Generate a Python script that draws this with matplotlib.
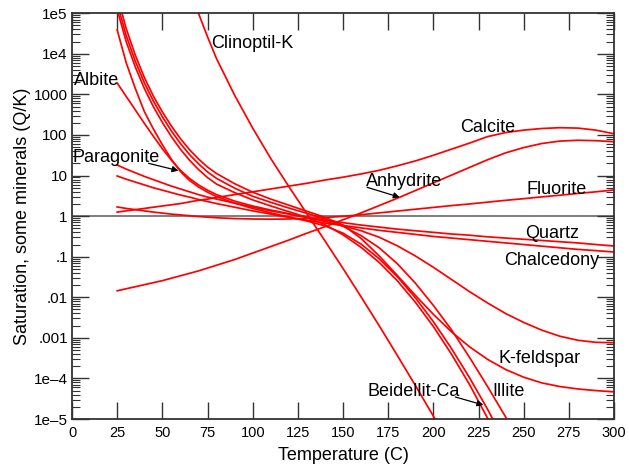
import numpy as np
import matplotlib
matplotlib.use("Agg")
import matplotlib.pyplot as plt
from matplotlib.ticker import LogLocator, NullFormatter, NullLocator

plt.rcParams['font.family'] = ['Liberation Sans', 'DejaVu Sans']

nan = np.nan

# Temperature grid (C): finer steps at low temperature where curves are steep
temperature = [25, 30, 35, 40, 45, 50, 55, 60, 65, 70, 75, 80,
               90, 100, 110, 120, 130, 140, 150, 160, 170, 180, 190, 200,
               210, 220, 230, 240, 250, 260, 270, 280, 290, 300]

# Saturation indices, log10(Q/K), for each mineral
si_clinoptil_k = [nan, nan, nan, nan, nan, nan, nan, 6.3, 5.65, 5.0, 4.42, 3.88,
                  2.98, 2.17, 1.42, 0.73, 0.06, -0.61, -1.29, -1.99, -2.70, -3.43, -4.17, -4.93,
                  -5.7, nan, nan, nan, nan, nan, nan, nan, nan, nan]
si_albite = [3.28, 2.95, 2.62, 2.29, 1.97, 1.66, 1.38, 1.13, 0.93, 0.77, 0.64, 0.53,
             0.37, 0.25, 0.15, 0.06, -0.03, -0.13, -0.24, -0.36, -0.52, -0.73, -0.98, -1.26,
             -1.56, -1.86, -2.14, -2.40, -2.62, -2.81, -2.96, -3.06, -3.11, -3.12]
si_paragonite = [4.59, 3.78, 3.15, 2.58, 2.15, 1.76, 1.40, 1.10, 0.88, 0.72, 0.59, 0.48,
                 0.32, 0.19, 0.08, -0.02, -0.12, -0.24, -0.42, -0.69, -1.05, -1.49, -2.01, -2.60,
                 -3.26, -3.98, -4.76, -5.6, nan, nan, nan, nan, nan, nan]
si_beidellit_ca = [5.09, 4.30, 3.68, 3.15, 2.70, 2.31, 1.96, 1.65, 1.38, 1.15, 0.95, 0.79,
                   0.58, 0.40, 0.25, 0.11, -0.03, -0.21, -0.46, -0.77, -1.14, -1.59, -2.12, -2.72,
                   -3.40, -4.15, -4.98, -5.9, nan, nan, nan, nan, nan, nan]
si_illite = [5.24, 4.45, 3.82, 3.29, 2.84, 2.45, 2.10, 1.79, 1.52, 1.29, 1.09, 0.93,
             0.69, 0.49, 0.34, 0.20, 0.07, -0.07, -0.25, -0.48, -0.78, -1.17, -1.65, -2.20,
             -2.80, -3.48, -4.20, -4.95, -5.8, nan, nan, nan, nan, nan]
si_k_feldspar = [5.44, 4.62, 3.97, 3.42, 2.96, 2.57, 2.22, 1.91, 1.64, 1.41, 1.21, 1.05,
                 0.80, 0.59, 0.42, 0.27, 0.12, -0.03, -0.22, -0.55, -0.98, -1.46, -1.95, -2.42,
                 -2.85, -3.22, -3.53, -3.78, -3.97, -4.11, -4.20, -4.26, -4.30, -4.33]
si_quartz = [1.26, 1.16, 1.07, 0.98, 0.90, 0.82, 0.74, 0.67, 0.60, 0.53, 0.47, 0.42,
             0.32, 0.22, 0.13, 0.05, -0.03, -0.10, -0.16, -0.22, -0.27, -0.32, -0.36, -0.40,
             -0.44, -0.47, -0.51, -0.54, -0.57, -0.60, -0.63, -0.66, -0.70, -0.736]
si_chalcedony = [0.99, 0.91, 0.84, 0.77, 0.70, 0.64, 0.58, 0.52, 0.47, 0.41, 0.36, 0.31,
                 0.22, 0.13, 0.05, -0.03, -0.10, -0.17, -0.23, -0.29, -0.35, -0.40, -0.45, -0.50,
                 -0.54, -0.58, -0.62, -0.66, -0.70, -0.74, -0.78, -0.82, -0.85, -0.884]
si_calcite = [0.10, 0.13, 0.16, 0.19, 0.22, 0.25, 0.28, 0.31, 0.35, 0.39, 0.42, 0.46,
              0.53, 0.60, 0.67, 0.74, 0.81, 0.89, 0.96, 1.04, 1.13, 1.24, 1.36, 1.50,
              1.65, 1.80, 1.96, 2.06, 2.12, 2.16, 2.18, 2.17, 2.12, 2.03]
si_anhydrite = [-1.84, -1.79, -1.74, -1.69, -1.64, -1.59, -1.53, -1.47, -1.41, -1.35, -1.28, -1.21,
                -1.07, -0.91, -0.75, -0.59, -0.42, -0.26, -0.09, 0.08, 0.26, 0.44, 0.63, 0.82,
                1.01, 1.20, 1.39, 1.56, 1.69, 1.79, 1.85, 1.87, 1.86, 1.835]
si_fluorite = [0.226, 0.19, 0.16, 0.13, 0.10, 0.075, 0.05, 0.03, 0.01, -0.01, -0.025, -0.04,
               -0.06, -0.07, -0.075, -0.07, -0.055, -0.035, -0.005, 0.035, 0.08, 0.125, 0.17, 0.215,
               0.26, 0.30, 0.345, 0.39, 0.43, 0.475, 0.515, 0.56, 0.60, 0.645]

minerals = [si_clinoptil_k, si_albite, si_paragonite, si_beidellit_ca, si_illite,
            si_k_feldspar, si_quartz, si_chalcedony, si_calcite, si_anhydrite, si_fluorite]

ytick_values = [1e-5, 1e-4, 1e-3, 1e-2, 1e-1, 1, 10, 100, 1000, 1e4, 1e5]
ytick_labels = ['1e\u20135', '1e\u20134', '.001', '.01', '.1', '1', '10', '100',
                '1000', '1e4', '1e5']
xtick_values = [0, 25, 50, 75, 100, 125, 150, 175, 200, 225, 250, 275, 300]

fig = plt.figure(figsize=(6.29, 4.71), dpi=100)
ax = fig.add_axes([0.1145, 0.1104, 0.8617, 0.8614])

ax.axhline(1, color='#5a5a5a', lw=1.1, zorder=1)
for si in minerals:
    ax.plot(temperature, 10.0 ** np.array(si, dtype=float), color='#ff0000',
            lw=1.25, zorder=2, solid_joinstyle='round')

ax.set_yscale('log')
ax.set_xlim(0, 300)
ax.set_ylim(1e-5, 1e5)
ax.set_yticks(ytick_values)
ax.set_yticklabels(ytick_labels)
ax.yaxis.set_minor_locator(LogLocator(base=10, subs=np.arange(2, 10), numticks=30))
ax.yaxis.set_minor_formatter(NullFormatter())
ax.set_xticks(xtick_values)
ax.xaxis.set_minor_locator(NullLocator())

spine_color = '#333333'
for s in ax.spines.values():
    s.set_color(spine_color)
    s.set_linewidth(1.3)
ax.tick_params(which='both', direction='in', top=True, right=True, color=spine_color)
ax.tick_params(which='major', length=12, width=1.0)
ax.tick_params(which='minor', length=6, width=0.8)
ax.tick_params(axis='y', labelsize=11, pad=3)
ax.tick_params(axis='x', labelsize=10.5, pad=5)

ax.set_xlabel('Temperature (C)', fontsize=13, labelpad=5)
ax.set_ylabel('Saturation, some minerals (Q/K)', fontsize=13, labelpad=2)

label_kw = dict(fontsize=13, ha='left', va='baseline', color='black')
ax.text(77.0, 10 ** 4.137, 'Clinoptil-K', **label_kw)
ax.text(1.1, 10 ** 3.233, 'Albite', **label_kw)
ax.text(0.4, 10 ** 1.342, 'Paragonite', **label_kw)
ax.text(215.0, 10 ** 2.082, 'Calcite', **label_kw)
ax.text(162.7, 10 ** 0.751, 'Anhydrite', **label_kw)
ax.text(251.6, 10 ** 0.539, 'Fluorite', **label_kw)
ax.text(251.0, 10 ** -0.55, 'Quartz', **label_kw)
ax.text(239.0, 10 ** -1.204, 'Chalcedony', **label_kw)
ax.text(235.9, 10 ** -3.627, 'K-feldspar', **label_kw)
ax.text(163.3, 10 ** -4.425, 'Beidellit-Ca', **label_kw)
ax.text(232.9, 10 ** -4.425, 'Illite', **label_kw)

arrow_kw = dict(arrowstyle='-|>', color='black', lw=0.9, mutation_scale=9,
                shrinkA=0, shrinkB=0)
ax.annotate('', xy=(58.9, 10 ** 1.12), xytext=(42.3, 10 ** 1.303), arrowprops=arrow_kw)
ax.annotate('', xy=(181.4, 10 ** 0.465), xytext=(163.3, 10 ** 0.711), arrowprops=arrow_kw)
ax.annotate('', xy=(227.7, 10 ** -4.655), xytext=(212.2, 10 ** -4.458), arrowprops=arrow_kw)

fig.savefig('out.png', dpi=100)
